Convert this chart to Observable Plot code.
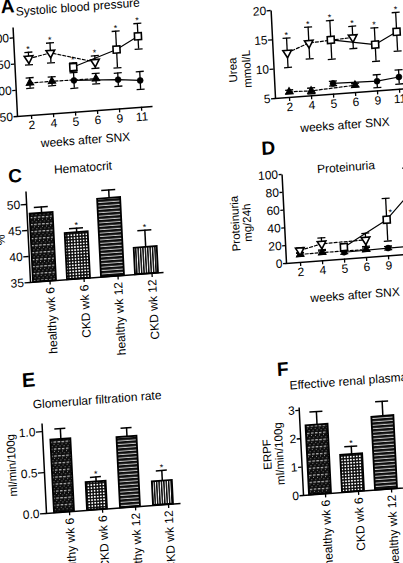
<!DOCTYPE html>
<html><head><meta charset="utf-8">
<script src="https://cdn.jsdelivr.net/npm/d3@7"></script>
<script src="https://cdn.jsdelivr.net/npm/@observablehq/plot@0.6"></script>
<style>
html,body{margin:0;padding:0;background:#fff;}
#fig{position:relative;width:403px;height:563px;overflow:hidden;background:#fff;font-family:"Liberation Sans",Arial,sans-serif;color:#000;}
.panel{position:absolute;}
.panel svg{display:block;}
.lbl{position:absolute;white-space:nowrap;line-height:1;font-family:"Liberation Sans",Arial,sans-serif;}
</style></head><body>
<svg width="0" height="0" style="position:absolute">
<defs>
<pattern id="pHW6" width="4" height="7" patternUnits="userSpaceOnUse">
<rect width="4" height="7" fill="#0d0d0d"/>
<rect x="0" y="0" width="0.8" height="0.8" fill="#bbb"/>
<rect x="2" y="2" width="0.8" height="0.8" fill="#bbb"/>
<rect x="0" y="4.6" width="2.6" height="0.9" fill="#f4f4f4"/>
</pattern>
<pattern id="pCKD6" width="3" height="3" patternUnits="userSpaceOnUse">
<rect width="3" height="3" fill="#0d0d0d"/>
<rect x="0.7" y="0.7" width="1.6" height="1.6" fill="#fff"/>
</pattern>
<pattern id="pHW12" width="4" height="3.4" patternUnits="userSpaceOnUse">
<rect width="4" height="3.4" fill="#0d0d0d"/>
<rect x="0" y="2.4" width="4" height="0.8" fill="#fff"/>
</pattern>
<pattern id="pCKD12" width="2.4" height="4" patternUnits="userSpaceOnUse">
<rect width="2.4" height="4" fill="#fff"/>
<rect x="0" y="0" width="1.5" height="4" fill="#0d0d0d"/>
</pattern>
</defs></svg>
<div id="fig"></div>
<script>
// ---------- data ----------
const weeks = ["2","4","5","6","9","11"];
const wk6Weeks = ["2","4","6"];
const wk12Weeks = ["5","9","11"];
const barCats = ["healthy wk 6","CKD wk 6","healthy wk 12","CKD wk 12"];
const barPatterns = ["url(#pHW6)","url(#pCKD6)","url(#pHW12)","url(#pCKD12)"];

// A: systolic blood pressure
const sbpTicks = [50,100,150,200];
const sbpCkd6 = [158.6,166.3,142.7], sbpCkd6Err = [12,19,12];
const sbpCkd12 = [136.2,163.4,185.6], sbpCkd12Err = [8,35,24.5];
const sbpHealthy6 = [111.9,112.1,110.9], sbpHealthy6Err = [10,8.5,10];
const sbpHealthy12 = [110.7,105.9,101.3], sbpHealthy12Err = [15,12.7,17];

// B: urea
const ureaTicks = [5,10,15,20];
const ureaCkd6 = [12.6,14.0,14.4], ureaCkd6Err = [2.5,2.7,1.9];
const ureaCkd12 = [14.25,12.9,14.8], ureaCkd12Err = [3.3,2.85,3.3];
const ureaHealthy6 = [5.96,5.84,6.25], ureaHealthy6Err = [0.3,0.5,0.3];
const ureaHealthy12 = [6.83,6.66,7.1], ureaHealthy12Err = [0.4,1.1,1.2];

// C: hematocrit
const hctTicks = [35,40,45,50];
const hct = [48.1,43.9,50.0,40.1], hctErr = [1.2,0.85,1.6,3.3];
const hctSig = [false,true,false,true];

// D: proteinuria
const protTicks = [0,20,40,60,80,100];
const protCkd6 = [13.5,19.1,19.9], protCkd6Err = [3,6.7,7.4];
const protCkd12 = [13.5,40.7,66], protCkd12Err = [4,24,31];
const protHealthy6 = [9,9.3,9], protHealthy6Err = [2,2,2];
const protHealthy12 = [7.8,8.8,9], protHealthy12Err = [2,2,2];

// E: GFR
const gfrTicks = [0,0.5,1.0];
const gfr = [0.89,0.34,0.86,0.29], gfrErr = [0.13,0.06,0.11,0.13];
const gfrSig = [false,true,false,true];

// F: ERPF
const erpfTicks = [0,1,2,3];
const erpf = [2.44,1.31,2.57], erpfErr = [0.47,0.29,0.53];
const erpfSig = [false,true,false];

// ---------- helpers ----------
const SKEW = "matrix(1,-0.074,0.05,1,0,0)";
const FONT = "Liberation Sans, Arial, sans-serif";
const capSym = {draw(ctx, size){const r=Math.sqrt(size/Math.PI);ctx.moveTo(-r,0);ctx.lineTo(r,0);}};
const triDown = {draw(ctx, size){const y=-Math.sqrt(size/(Math.sqrt(3)*3));ctx.moveTo(0,-2*y);ctx.lineTo(Math.sqrt(3)*y,y);ctx.lineTo(-Math.sqrt(3)*y,y);ctx.closePath();}};
const fig = document.getElementById("fig");

function seriesMarks(wks, vals, errs, st){
  const rows = wks.map((w,i)=>({w, v: vals[i], e: errs[i]}));
  const m = [
    Plot.line(rows,{x:"w",y:"v",stroke:"black",strokeWidth:1.2,strokeDasharray:st.dash}),
    Plot.ruleX(rows,{x:"w",y1:d=>d.v-d.e,y2:d=>d.v+d.e,stroke:"black",strokeWidth:1.3}),
    Plot.dot(rows,{x:"w",y:d=>d.v+d.e,symbol:capSym,r:4,fill:"none",stroke:"black",strokeWidth:1.3}),
    Plot.dot(rows,{x:"w",y:d=>d.v-d.e,symbol:capSym,r:4,fill:"none",stroke:"black",strokeWidth:1.3}),
    Plot.dot(rows,{x:"w",y:"v",symbol:st.symbol,r:st.r,fill:st.fill,stroke:"black",strokeWidth:st.sw})
  ];
  if (st.sig) m.push(Plot.text(rows,{x:"w",y:d=>d.v+d.e,text:()=>"*",dy:-3,fontSize:9}));
  return m;
}
const stCkd6 = {symbol:triDown,r:3.2,fill:"white",sw:1.6,dash:"3,2",sig:true};
const stCkd12 = {symbol:"square",r:3.9,fill:"white",sw:1.6,dash:null,sig:true};
const stH6 = {symbol:"triangle",r:2.8,fill:"black",sw:1,dash:"3,2",sig:false};
const stH12 = {symbol:"circle",r:3,fill:"black",sw:0.5,dash:null,sig:false};

function mount(plot, cfg){
  const {ox,oy,ML,MT,MR,MB,W,H,labels} = cfg;
  const div = document.createElement("div");
  div.className = "panel";
  div.style.left = (ox-ML)+"px";
  div.style.top = (oy-MT-H)+"px";
  div.style.width = (ML+W+MR)+"px";
  div.style.height = (MT+H+MB)+"px";
  div.style.transformOrigin = `${ML}px ${MT+H}px`;
  div.style.transform = SKEW;
  div.appendChild(plot);
  for (const L of labels){
    const el = document.createElement("div");
    el.className = "lbl";
    el.textContent = L.t;
    el.style.left = (ML+L.x)+"px";
    el.style.top = (MT+H+L.y)+"px";
    el.style.fontSize = (L.size||12)+"px";
    el.style.fontWeight = L.bold ? "bold" : "normal";
    const tx = L.start ? "0" : "-50%";
    el.style.transform = `translate(${tx},-50%)` + (L.rot ? ` rotate(${L.rot}deg)` : "");
    div.appendChild(el);
  }
  fig.appendChild(div);
}

function linePanel(cfg){
  const {ML=45,MT=20,MR=15,MB=50,W,H} = cfg;
  Object.assign(cfg,{ML,MT,MR,MB});
  const marks = [Plot.frame({stroke:"black",strokeWidth:1.5,strokeDasharray:`0,${W+H},${W+H}`})];
  for (const s of cfg.series) marks.push(...seriesMarks(...s));
  if (cfg.extra) marks.push(...cfg.extra);
  marks.push(Plot.axisY({ticks:cfg.yTicks,tickSize:cfg.yTick,tickPadding:1,label:null,fontSize:12,strokeWidth:1.3,tickFormat:cfg.yFormat}));
  marks.push(Plot.axisX({tickSize:4,tickPadding:1,label:null,fontSize:12,strokeWidth:1.3}));
  const plot = Plot.plot({
    width:ML+W+MR,height:MT+H+MB,marginLeft:ML,marginTop:MT,marginRight:MR,marginBottom:MB,
    style:{fontFamily:FONT,fontSize:"12px",background:"transparent",overflow:"visible",color:"black"},
    x:{type:"point",domain:weeks,padding:0.54,align:0.57},
    y:{domain:cfg.yDomain},
    marks
  });
  mount(plot,cfg);
}

function barPanel(cfg){
  const {ML=45,MT=20,MR=15,MB=90,W,H} = cfg;
  Object.assign(cfg,{ML,MT,MR,MB});
  const base = cfg.yTicks[0];
  const rows = cfg.vals.map((v,i)=>({c:barCats[i],v,e:cfg.errs[i],s:cfg.sig[i]}));
  const plot = Plot.plot({
    width:ML+W+MR,height:MT+H+MB,marginLeft:ML,marginTop:MT,marginRight:MR,marginBottom:MB,
    style:{fontFamily:FONT,fontSize:"12px",background:"transparent",overflow:"visible",color:"black"},
    x:{type:"band",domain:barCats,paddingInner:cfg.band[0],paddingOuter:cfg.band[1],align:cfg.band[2]},
    y:{domain:cfg.yDomain},
    color:{type:"ordinal",domain:barCats,range:barPatterns},
    marks:[
      Plot.ruleX(rows,{x:"c",y1:"v",y2:d=>d.v+d.e,stroke:"black",strokeWidth:1.5}),
      Plot.tickY(rows,{x:"c",y:d=>d.v+d.e,stroke:"black",strokeWidth:1.5,inset:4.5}),
      Plot.barY(rows,{x:"c",y1:()=>base,y2:"v",fill:"c",stroke:"black",strokeWidth:1.8}),
      Plot.text(rows.filter(d=>d.s),{x:"c",y:d=>d.v+d.e,text:()=>"*",dy:-3,fontSize:9}),
      Plot.frame({stroke:"black",strokeWidth:1.5,strokeDasharray:`0,${W+H},${W+H}`}),
      Plot.axisY({ticks:cfg.yTicks,tickSize:cfg.yTick,tickPadding:1,label:null,fontSize:12,strokeWidth:1.3,tickFormat:cfg.yFormat}),
      Plot.axisX({tickSize:4,tickPadding:2,tickRotate:-90,dx:5,label:null,fontSize:12,strokeWidth:1.3})
    ]
  });
  mount(plot,cfg);
}

// ---------- panels ----------
// A
linePanel({ox:16.7,oy:116,W:135,H:89,yDomain:[50,220],yTicks:sbpTicks,yTick:3.5,yFormat:d3.format("d"),
  series:[[wk6Weeks,sbpHealthy6,sbpHealthy6Err,stH6],[wk12Weeks,sbpHealthy12,sbpHealthy12Err,stH12],
          [wk6Weeks,sbpCkd6,sbpCkd6Err,stCkd6],[wk12Weeks,sbpCkd12,sbpCkd12Err,stCkd12]],
  labels:[{t:"A",x:-4,y:-110,size:19,bold:true},{t:"Systolic blood pressure",x:66,y:-104},{t:"weeks after SNX",x:67,y:29}]});
// B
linePanel({ox:275,oy:98.3,W:135,H:88,yDomain:[5,20],yTicks:ureaTicks,yTick:4,yFormat:d3.format("d"),
  series:[[wk6Weeks,ureaHealthy6,ureaHealthy6Err,stH6],[wk12Weeks,ureaHealthy12,ureaHealthy12Err,stH12],
          [wk6Weeks,ureaCkd6,ureaCkd6Err,stCkd6],[wk12Weeks,ureaCkd12,ureaCkd12Err,stCkd12]],
  labels:[{t:"Urea",x:-40,y:-31,rot:-90,size:11.5},{t:"mmol/L",x:-26.5,y:-31,rot:-90,size:11.5},{t:"weeks after SNX",x:68.4,y:31.8}]});
// C
barPanel({ox:30,oy:282,W:133,H:91,yDomain:[35,52.5],yTicks:hctTicks,yTick:5.5,yFormat:d3.format("d"),vals:hct,errs:hctErr,sig:hctSig,band:[0.33,0.09,0.4],
  labels:[{t:"C",x:-9.7,y:-107.2,size:19,bold:true},{t:"Hematocrit",x:58.5,y:-109.7},{t:"%",x:-27,y:-44,rot:-90}]});
// D
const protSig = wk12Weeks.map((w,i)=>({w,v:protCkd12[i]})).filter(d=>d.w!=="5");
linePanel({ox:286,oy:263,W:135,H:89,yDomain:[0,100],yTicks:protTicks,yTick:3,yFormat:d3.format("d"),
  series:[[wk6Weeks,protHealthy6,protHealthy6Err,stH6],[wk12Weeks,protHealthy12,protHealthy12Err,stH12],
          [wk6Weeks,protCkd6,protCkd6Err,{...stCkd6,sig:false}],[wk12Weeks,protCkd12,protCkd12Err,{...stCkd12,sig:false}]],
  extra:[Plot.text(protSig,{x:"w",y:"v",text:()=>"*",dx:4,dy:-7,fontSize:9})],
  labels:[{t:"D",x:-12,y:-115.6,size:19,bold:true},{t:"Proteinuria",x:64.5,y:-90.7},
          {t:"Proteinuria",x:-47.8,y:-43,rot:-90,size:11.5},{t:"mg/24h",x:-36,y:-43,rot:-90,size:11.5},{t:"weeks after SNX",x:67.2,y:37}]});
// E
barPanel({ox:45.7,oy:513.3,W:134,H:90,yDomain:[0,1.1],yTicks:gfrTicks,yTick:6,yFormat:d3.format(".1f"),vals:gfr,errs:gfrErr,sig:gfrSig,band:[0.39,0.177,0.54],
  labels:[{t:"E",x:-10.7,y:-133.6,size:20,bold:true},{t:"Glomerular filtration rate",x:56.5,y:-109.1},{t:"ml/min/100g",x:-31.2,y:-49.6,rot:-90,size:11.5}]});
// F
barPanel({ox:302.7,oy:495,W:134,H:88,yDomain:[0,3.1],yTicks:erpfTicks,yTick:3.5,yFormat:d3.format("d"),vals:erpf,errs:erpfErr,sig:erpfSig,band:[0.345,0.167,0.45],
  labels:[{t:"F",x:-13.8,y:-127.5,size:19,bold:true},{t:"Effective renal plasma flow",x:-8,y:-109.6,start:true},
          {t:"ERPF",x:-33.4,y:-43.5,rot:-90,size:11.5},{t:"ml/min/100g",x:-20.7,y:-43.5,rot:-90,size:11.5}]});
</script>
</body></html>
